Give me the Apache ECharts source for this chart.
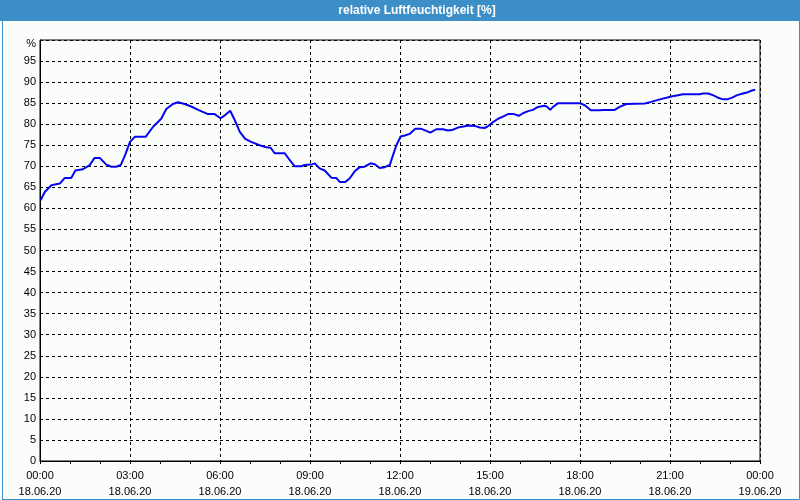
<!DOCTYPE html>
<html>
<head>
<meta charset="utf-8">
<script src="https://cdn.jsdelivr.net/npm/echarts@6/dist/echarts.min.js"></script>
<style>
html,body{margin:0;padding:0;background:#fff;}
#c{width:800px;height:500px;}
</style>
</head>
<body>
<div id="c"></div>
<script>
const titleText = 'relative Luftfeuchtigkeit [%]';
const xTickTimes = ['00:00','03:00','06:00','09:00','12:00','15:00','18:00','21:00','00:00'];
const xTickDates = ['18.06.20','18.06.20','18.06.20','18.06.20','18.06.20','18.06.20','18.06.20','18.06.20','19.06.20'];
// hours since 18.06.20 00:00
const hours = [0.02,0.16,0.38,0.66,0.82,1.04,1.18,1.43,1.66,1.82,1.99,2.21,2.38,2.54,2.69,2.84,3.0,3.16,3.52,3.77,4.04,4.21,4.43,4.6,4.82,5.04,5.27,5.6,5.82,6.02,6.16,6.34,6.49,6.66,6.84,7.04,7.32,7.54,7.69,7.82,8.16,8.32,8.49,8.71,8.82,9.04,9.16,9.32,9.49,9.71,9.88,9.99,10.18,10.32,10.49,10.66,10.82,11.02,11.16,11.32,11.49,11.66,11.77,11.88,11.99,12.02,12.16,12.32,12.51,12.71,12.88,13.01,13.21,13.43,13.6,13.77,13.93,14.16,14.32,14.49,14.66,14.82,14.93,15.1,15.27,15.43,15.6,15.8,15.96,16.1,16.27,16.43,16.6,16.82,16.91,17.01,17.1,17.27,17.99,18.16,18.36,18.66,18.77,19.16,19.32,19.54,20.16,20.38,20.66,20.88,21.04,21.27,21.43,21.99,22.1,22.27,22.43,22.6,22.77,22.91,23.07,23.24,23.43,23.6,23.73,23.84];
const humidity = [61.9,63.9,65.5,65.9,67.2,67.2,69.0,69.3,70.3,72.0,72.0,70.4,69.9,69.9,70.3,72.7,75.8,77.0,77.0,79.4,81.3,83.6,84.8,85.2,84.8,84.2,83.4,82.4,82.4,81.4,82.1,83.2,81.0,78.2,76.5,75.8,75.0,74.5,74.4,73.1,73.1,71.5,70.0,70.0,70.3,70.4,70.7,69.5,69.0,67.3,67.2,66.3,66.3,67.1,68.8,69.8,69.9,70.7,70.5,69.6,69.8,70.3,72.7,75.0,76.6,77.1,77.3,77.7,78.9,78.9,78.4,78.0,78.8,78.8,78.5,78.7,79.2,79.5,79.7,79.6,79.2,79.1,79.5,80.5,81.3,81.8,82.4,82.4,82.0,82.6,83.1,83.4,84.1,84.4,84.1,83.4,84.1,85.0,85.0,84.5,83.3,83.3,83.4,83.4,84.1,84.8,84.9,85.3,85.9,86.3,86.6,86.9,87.1,87.1,87.3,87.3,86.9,86.3,85.9,85.9,86.3,86.9,87.3,87.6,88.0,88.2];

const chart = echarts.init(document.getElementById('c'), null, {renderer: 'canvas'});
const data = hours.map((h, i) => [h, humidity[i]]);
const font = '"Liberation Sans", Arial, sans-serif';
chart.setOption({
  animation: false,
  backgroundColor: '#fbfdfb',
  graphic: [
    {type: 'rect', left: 0, top: 0, shape: {x: 0, y: 0, width: 800, height: 21}, style: {fill: '#3c8fc6'}, z: -1},
    {type: 'rect', left: 0, top: 0, shape: {x: 0.5, y: 0.5, width: 799, height: 499}, style: {fill: null, stroke: '#3c8fc6', lineWidth: 1}, z: -1},
    {type: 'rect', left: 0, top: 0, shape: {x: 1.5, y: 1.5, width: 797, height: 497}, style: {fill: null, stroke: '#3c8fc6', lineWidth: 1}, z: -1},
    {type: 'text', x: 417, y: 11, style: {text: titleText, fill: '#ffffff', font: 'bold 12px ' + font, textAlign: 'center', textVerticalAlign: 'middle'}, z: 10}
  ],
  grid: {left: 40, right: 40, top: 40, bottom: 39, show: true, borderColor: '#000', borderWidth: 1, backgroundColor: 'transparent'},
  xAxis: {
    type: 'value', min: 0, max: 24, interval: 3,
    axisLine: {show: true, lineStyle: {color: '#000', width: 1}},
    axisTick: {show: true, length: 3, lineStyle: {color: '#000'}},
    minorTick: {show: true, splitNumber: 3, length: 3, lineStyle: {color: '#000'}},
    splitLine: {show: true, lineStyle: {color: '#000', type: [3, 3], width: 1}},
    axisLabel: {
      color: '#000', fontFamily: font, fontSize: 11, lineHeight: 16, margin: 7,
      showMinLabel: true, showMaxLabel: true,
      formatter: v => { const i = Math.round(v / 3); return xTickTimes[i] + '\n' + xTickDates[i]; }
    }
  },
  yAxis: {
    type: 'value', min: 0, max: 100, interval: 5,
    axisLine: {show: true, lineStyle: {color: '#000', width: 1}},
    axisTick: {show: false},
    splitLine: {show: true, lineStyle: {color: '#000', type: [3, 3], width: 1}},
    axisLabel: {
      color: '#000', fontFamily: font, fontSize: 11, margin: 4,
      formatter: v => v === 100 ? '{p|%}' : String(v),
      rich: {p: {fontFamily: font, fontSize: 11, color: '#000', padding: [8, 0, 0, 0]}}
    }
  },
  series: [{
    type: 'line', data: data, showSymbol: false, symbol: 'none',
    lineStyle: {color: '#0505f0', width: 2}, smooth: false
  }]
});
</script>
</body>
</html>
